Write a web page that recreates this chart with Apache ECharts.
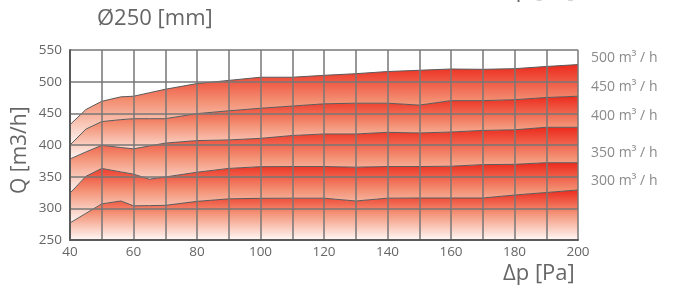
<!DOCTYPE html>
<html>
<head>
<meta charset="utf-8">
<style>
    html, body { margin: 0; padding: 0; background: #fff; }
    #chart { width: 674px; height: 293px; }
</style>
<script src="https://cdn.jsdelivr.net/npm/echarts@6/dist/echarts.min.js"></script>
</head>
<body>
<div id="chart"></div>
<script>
// pressure drop [Pa], shared by all curves
var pressure = [40, 45, 50, 56, 60, 65, 70, 80, 90, 100, 110, 120, 130, 140, 150, 160, 170, 180, 190, 200];

// airflow lines [m3/h]
var q300 = [277, 292, 307, 311.6, 304, 304.3, 304.7, 311, 315, 315.8, 316, 316, 311.6, 316, 316.3, 316.3, 316.3, 321, 325, 329];
var q350 = [324, 350.5, 363, 357.5, 354, 346, 349.5, 357, 363, 365.8, 366, 366, 365, 366, 366, 366.5, 369, 369.5, 372, 372];
var q400 = [378, 389, 399.5, 396, 394, 398.5, 403, 407, 408, 410.5, 415, 417.4, 417.4, 420, 419, 420.5, 423, 424, 428, 428];
var q450 = [400, 425, 437, 440, 441.5, 441.5, 441.5, 449.5, 454, 458, 461.5, 465, 466, 466, 463, 470, 470, 471.5, 475, 477];
var q500 = [432, 456, 469, 476, 477, 482.5, 488, 497, 502, 507, 507, 510, 512.6, 516, 518, 520, 519.5, 520.5, 524, 527];

var lineNames = ['300', '350', '400', '450', '500'];
var lines = [q300, q350, q400, q450, q500];

var textFont = '"Open Sans", Roboto, sans-serif';

// label shift up from the line end
var labelDy = [-9, -10, -11, -9, -7];

var bandFill = function () {
    return new echarts.graphic.LinearGradient(0, 0, 0, 1, [
        { offset: 0, color: '#ec2a1d' },
        { offset: 0.45, color: '#f38f72' },
        { offset: 1, color: '#fff9f6' }
    ]);
};

// data is [Q, p] so the stack runs on Q (first column), x reads column 1
var makeSeries = function (idx) {
    var below = idx > 0 ? lines[idx - 1] : null;
    return {
        name: lineNames[idx],
        type: 'line',
        stack: 'q',
        symbol: 'none',
        smooth: false,
        encode: { x: 1, y: 0 },
        lineStyle: { color: '#5a5a5a', width: 1 },
        areaStyle: { color: bandFill(), opacity: 1, origin: 'start' },
        endLabel: {
            show: true,
            distance: 0,
            offset: [13, labelDy[idx]],
            formatter: lineNames[idx] + ' m³ / h',
            color: '#8a8a8a',
            fontSize: 14,
            fontFamily: textFont
        },
        data: pressure.map(function (p, i) {
            return [below ? lines[idx][i] - below[i] : lines[idx][i], p];
        })
    };
};

var gridStyle = { color: '#777', width: 1.5 };

var option = {
    animation: false,
    backgroundColor: '#fff',
    grid: { left: 70, top: 50, width: 508, height: 190 },
    xAxis: {
        type: 'value',
        min: 40,
        max: 200,
        interval: 20,
        z: 10,
        axisLine: { show: true, lineStyle: { color: '#5a5a5a', width: 2 } },
        axisTick: { show: false },
        axisLabel: { color: '#666', fontSize: 13.5, fontFamily: textFont, margin: 5 },
        splitLine: { show: true, lineStyle: gridStyle },
        minorTick: { show: false, splitNumber: 2 },
        minorSplitLine: { show: true, lineStyle: gridStyle }
    },
    yAxis: {
        type: 'value',
        min: 250,
        max: 550,
        interval: 50,
        z: 10,
        axisLine: { show: true, lineStyle: { color: '#5a5a5a', width: 2 } },
        axisTick: { show: false },
        axisLabel: { color: '#666', fontSize: 13.5, fontFamily: textFont, margin: 8 },
        splitLine: { show: true, lineStyle: gridStyle }
    },
    graphic: [
        {
            type: 'text', left: 97, top: 8,
            style: { text: 'Ø250 [mm]', fill: '#666', fontSize: 22, fontFamily: textFont }
        },
        {
            type: 'text', left: 503, top: -20,
            style: { text: 'Δp [Pa]', fill: '#666', fontSize: 22, fontFamily: textFont }
        },
        {
            type: 'text', left: 503, top: 263,
            style: { text: 'Δp [Pa]', fill: '#666', fontSize: 22, fontFamily: textFont }
        },
        {
            type: 'text', x: 10, y: 194, rotation: Math.PI / 2,
            style: { text: 'Q [m3/h]', fill: '#666', fontSize: 21, fontFamily: textFont }
        }
    ],
    series: lines.map(function (l, i) { return makeSeries(i); })
};

var myChart = echarts.init(document.getElementById('chart'));
myChart.setOption(option);
</script>
</body>
</html>
